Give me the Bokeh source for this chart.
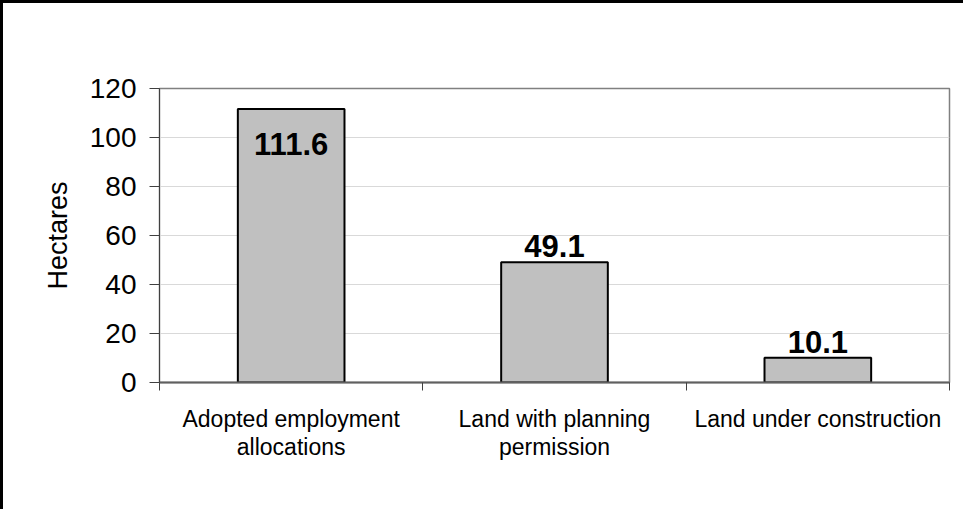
from bokeh.plotting import figure
from bokeh.models import ColumnDataSource, Range1d, FixedTicker
from bokeh.core.properties import value
from bokeh.embed import file_html
from bokeh.resources import INLINE

# ---- data ----
categories = ["Adopted employment allocations", "Land with planning permission", "Land under construction"]
category_tick_labels = ["Adopted employment\nallocations", "Land with planning\npermission", "Land under construction"]
hectares = [111.6, 49.1, 10.1]
y_ticks = [0, 20, 40, 60, 80, 100, 120]

FONT = "Liberation Sans"

xpos = [i + 0.5 for i in range(len(categories))]
bounds = [float(i) for i in range(len(categories) + 1)]

src = ColumnDataSource(data=dict(
    x=xpos,
    top=hectares,
    label=[f"{v:.1f}" for v in hectares],
    yoff=[46, -5, -5],
    cat=categories,
))

p = figure(width=963, height=509, output_backend="svg", toolbar_location=None,
           x_range=Range1d(0, len(categories)), y_range=Range1d(y_ticks[0], y_ticks[-1]),
           min_border_left=156, min_border_top=85, min_border_right=17, min_border_bottom=130)
p.styles = {"border-left": "3px solid black", "border-top": "3px solid black"}

p.vbar(x="x", top="top", bottom=0, width=0.405, source=src,
       fill_color="#c0c0c0", line_color="black", line_width=2)

p.text(x="x", y="top", text="label", source=src, y_offset="yoff",
       text_align="center", text_baseline="bottom",
       text_font=value(FONT), text_font_style="bold", text_font_size="31px",
       text_color="black")

# y axis
p.yaxis.ticker = FixedTicker(ticks=y_ticks)
p.yaxis.axis_label = "Hectares"
p.yaxis.axis_label_text_font = FONT
p.yaxis.axis_label_text_font_size = "27px"
p.yaxis.axis_label_text_font_style = "normal"
p.yaxis.axis_label_text_color = "black"
p.yaxis.axis_label_standoff = 14
p.yaxis.major_label_text_font = FONT
p.yaxis.major_label_text_font_size = "28px"
p.yaxis.major_label_text_color = "black"
p.yaxis.major_label_standoff = 13
p.yaxis.major_tick_out = 10
p.yaxis.major_tick_in = 0
p.yaxis.minor_tick_line_color = None
p.yaxis.axis_line_color = "#404040"
p.yaxis.major_tick_line_color = "#404040"

# x axis: labels at category centres, ticks at category boundaries
p.xaxis.ticker = FixedTicker(ticks=xpos, minor_ticks=bounds)
p.xaxis.major_label_overrides = {x: lab for x, lab in zip(xpos, category_tick_labels)}
p.xaxis.major_label_text_font = FONT
p.xaxis.major_label_text_font_size = "23px"
p.xaxis.major_label_text_color = "black"
p.xaxis.major_label_text_line_height = 1.1
p.xaxis.major_label_standoff = 15
p.xaxis.major_tick_line_color = None
p.xaxis.major_tick_out = 0
p.xaxis.major_tick_in = 0
p.xaxis.minor_tick_out = 8
p.xaxis.minor_tick_in = 0
p.xaxis.minor_tick_line_color = "#404040"
p.xaxis.axis_line_color = "#606060"
p.xaxis.axis_line_width = 2

p.xgrid.grid_line_color = None
p.ygrid.grid_line_color = "#d9d9d9"
p.ygrid.grid_line_width = 1

p.outline_line_color = "#808080"
p.outline_line_width = 1.5
p.background_fill_color = "white"
p.border_fill_color = "white"

open("out.html", "w").write(file_html(p, INLINE))
